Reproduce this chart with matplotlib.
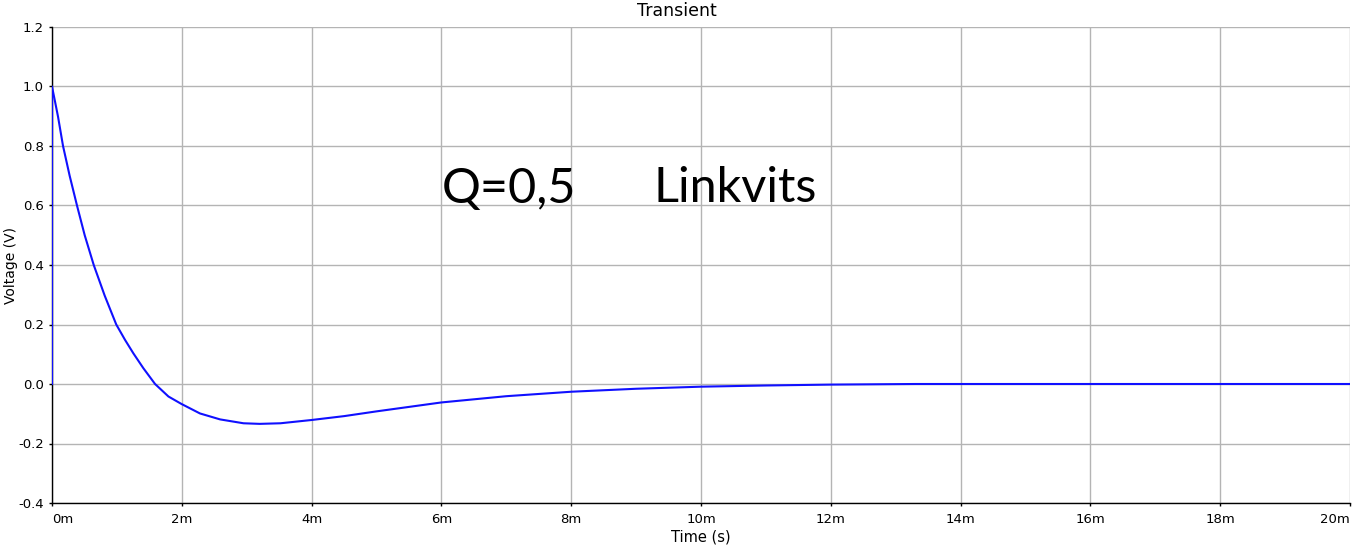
import numpy as np
import matplotlib
matplotlib.use("Agg")
import matplotlib.pyplot as plt
from matplotlib.ticker import FuncFormatter

# values (time in ms, voltage in V)
time_ms = [0.0, 0.0, 0.046, 0.0925, 0.170, 0.272, 0.385, 0.504, 0.643, 0.812,
           0.99, 1.126, 1.254, 1.408, 1.588, 1.794, 1.994, 2.28, 2.59, 2.95,
           3.2, 3.52, 4.0, 4.5, 5.0, 6.0, 7.0, 8.0, 9.0, 10.0, 11.0, 12.0,
           13.3, 14.0, 16.0, 18.0, 20.0]
voltage = [0.0, 1.0, 0.95, 0.899, 0.8, 0.7, 0.6, 0.5, 0.4, 0.297,
           0.2, 0.148, 0.103, 0.053, 0.0, -0.042, -0.067, -0.099, -0.119, -0.132,
           -0.134, -0.132, -0.121, -0.108, -0.092, -0.062, -0.041, -0.026, -0.016, -0.009, -0.005, -0.002,
           0.0, 0.0, 0.0, 0.0, 0.0]

x_ticks = np.arange(0, 21, 2)
y_ticks = [-0.4, -0.2, 0.0, 0.2, 0.4, 0.6, 0.8, 1.0, 1.2]

plt.rcParams['font.family'] = ['DejaVu Sans']

W, H = 1354, 552
fig = plt.figure(figsize=(W / 100, H / 100), dpi=100)
ax = fig.add_axes([52 / W, (H - 503) / H, (1350 - 52) / W, (503 - 27) / H])

ax.plot(time_ms, voltage, color="#1010ff", lw=1.5, zorder=3)

ax.set_xlim(0, 20)
ax.set_ylim(-0.4, 1.2)
ax.set_xticks(x_ticks)
ax.set_yticks(y_ticks)
ax.xaxis.set_major_formatter(FuncFormatter(lambda v, p: f"{v:.0f}m"))
ax.yaxis.set_major_formatter(FuncFormatter(lambda v, p: f"{v:.1f}"))
ax.grid(True, color="#b4b4b4", lw=1.0)
ax.set_axisbelow(True)

for s in ["top", "right"]:
    ax.spines[s].set_visible(False)
for s in ["left", "bottom"]:
    ax.spines[s].set_color("black")
    ax.spines[s].set_linewidth(1.0)
ax.tick_params(direction="out", length=2.5, width=1, labelsize=9.5)
ax.tick_params(axis="y", pad=3.5)
ax.tick_params(axis="x", pad=5)

# first label sits right of its tick, last one left of it
xlabels = ax.get_xticklabels()
xlabels[0].set_ha("left")
xlabels[-1].set_ha("right")

# title is centred on the whole figure in the reference
fig.text(0.5, 1 - 11 / H, "Transient", fontsize=12.5, ha="center", va="center")
ax.set_xlabel("Time (s)", fontsize=10.5, labelpad=2)
fig.text(11 / W, 1 - 265 / H, "Voltage (V)", fontsize=10, rotation=90,
         ha="center", va="center")

# big annotation
fig.text(442 / W, 1 - 202.5 / H, "Q=0,5", fontsize=35, family=["Lato", "DejaVu Sans"],
         va="baseline", ha="left")
fig.text(653 / W, 1 - 202.5 / H, "Linkvits", fontsize=35, family=["Lato", "DejaVu Sans"],
         va="baseline", ha="left")

plt.savefig("out.png", dpi=100)
plt.close()
